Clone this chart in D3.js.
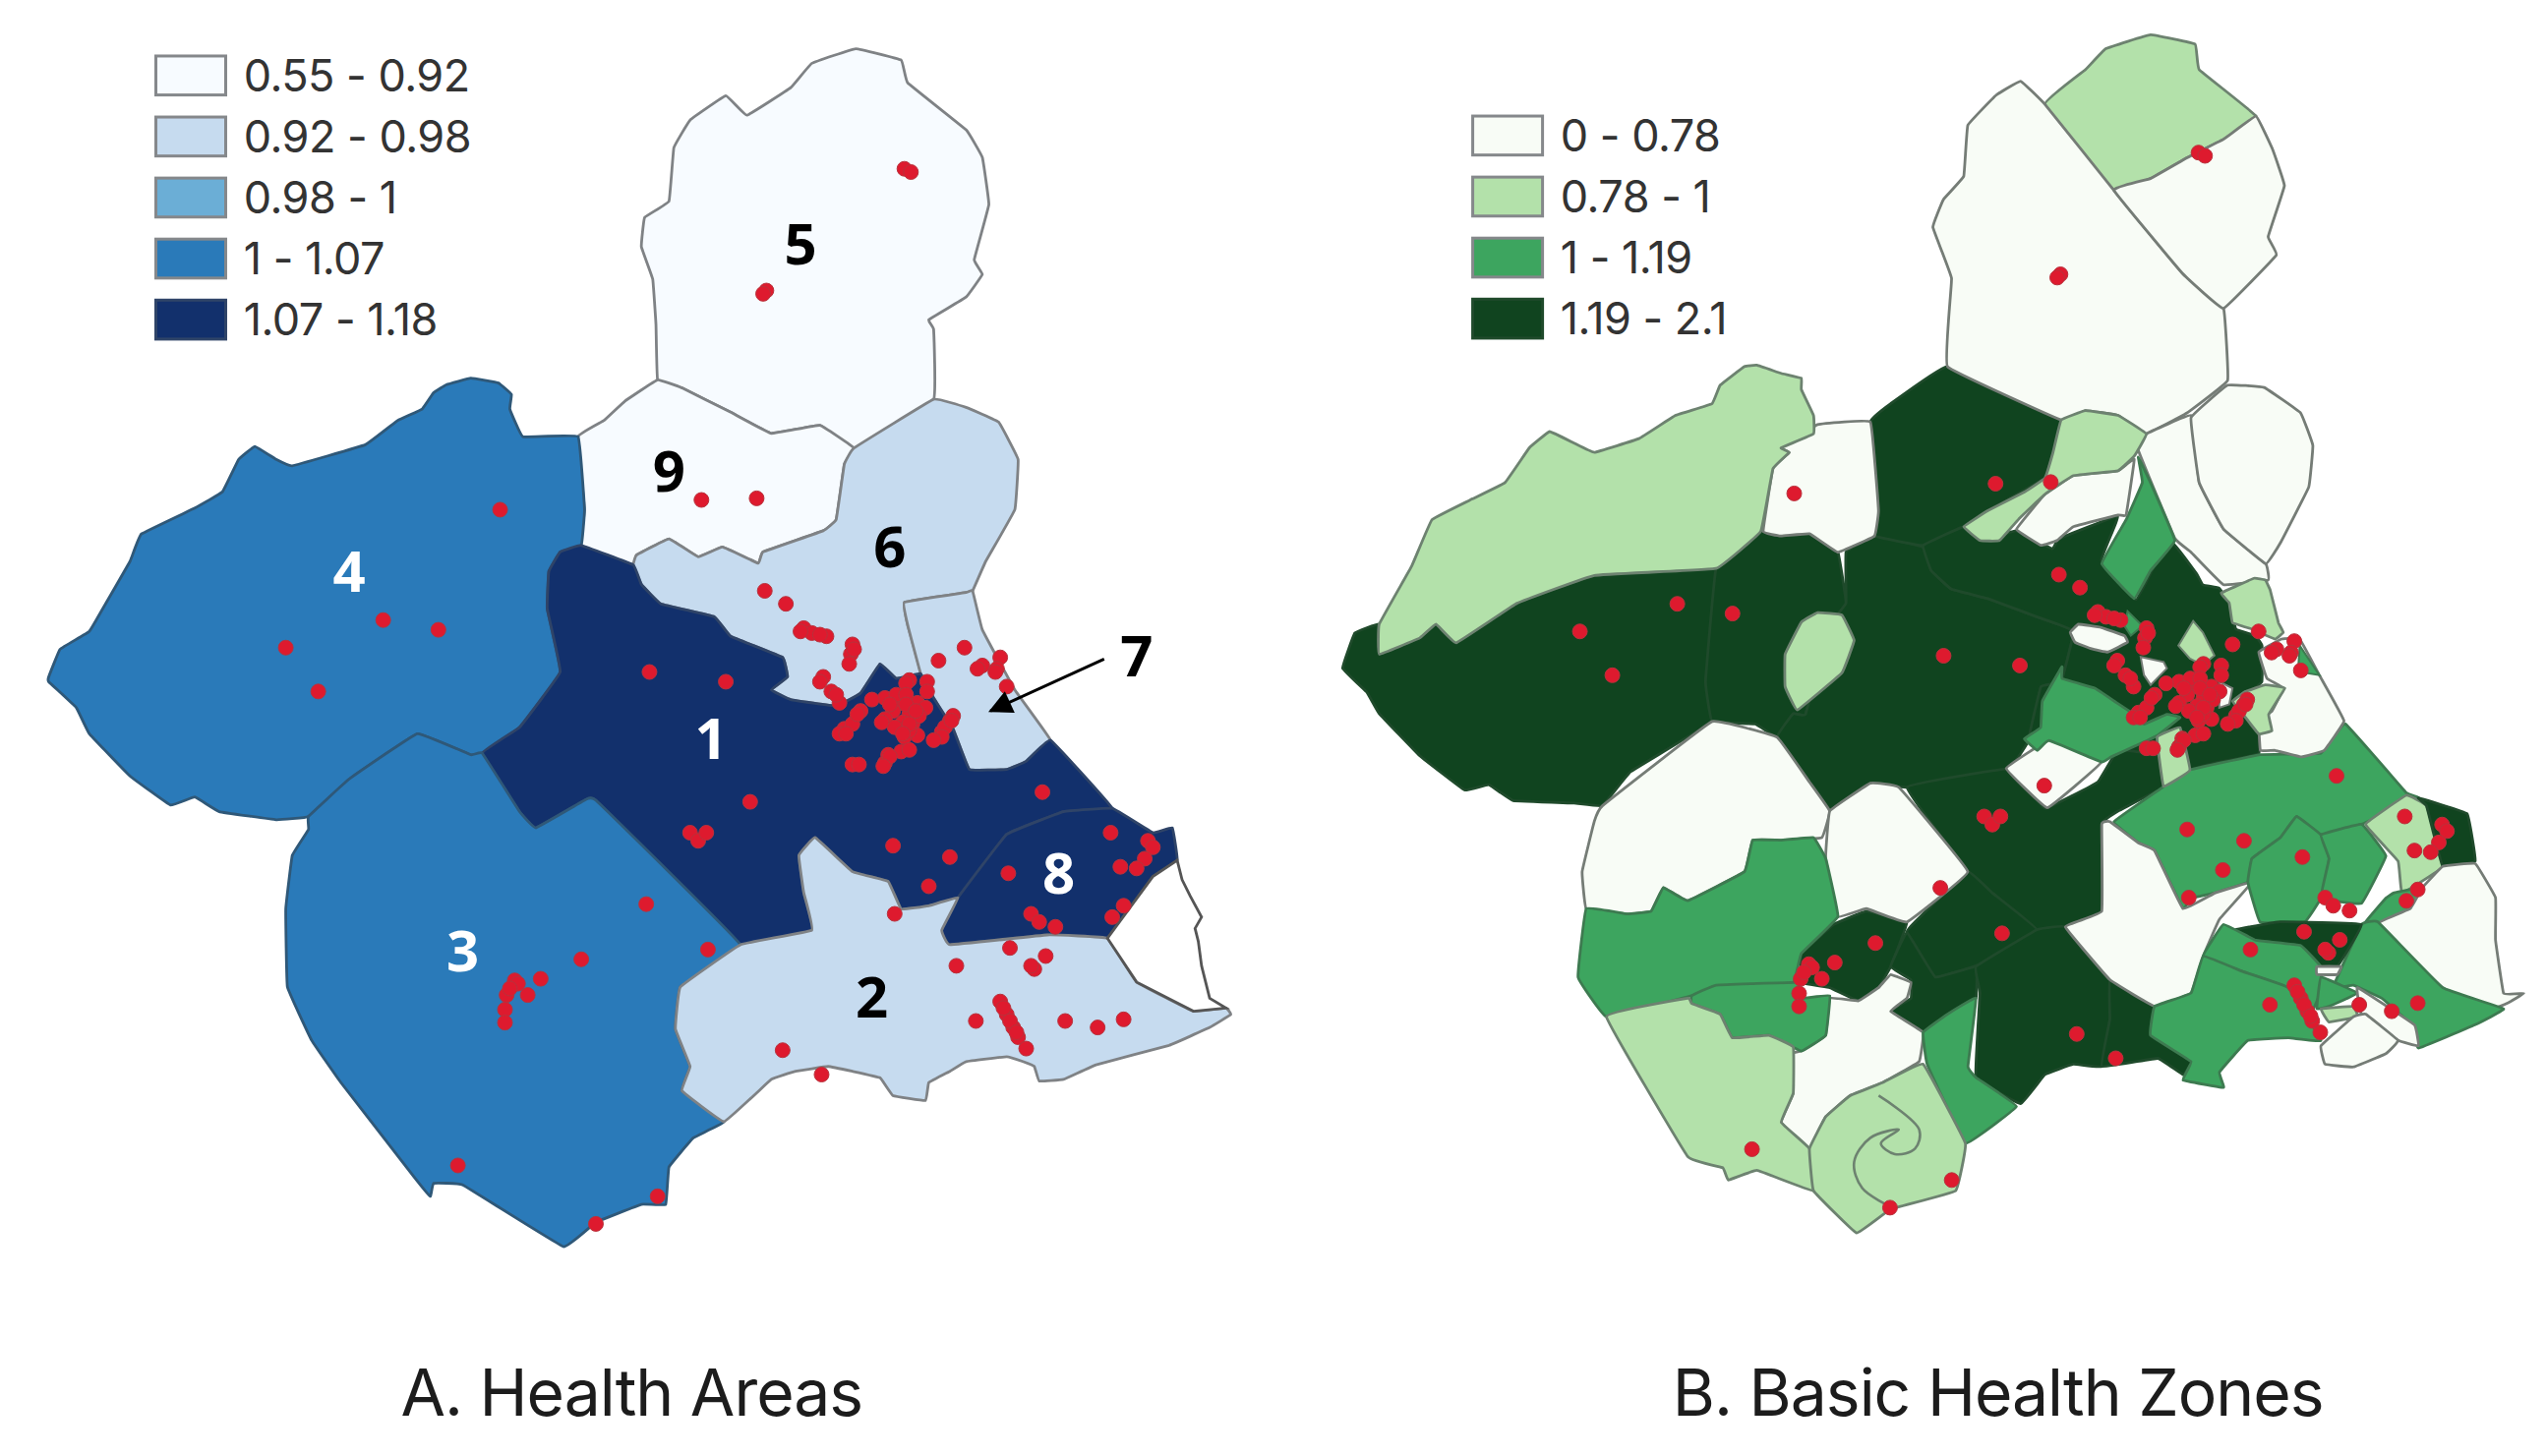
<!DOCTYPE html>
<html>
<head>
<meta charset="utf-8">
<title>Health Areas and Basic Health Zones</title>
<script src="https://cdn.jsdelivr.net/npm/d3@7"></script>
<style>
  html, body { margin: 0; background: #fff; }
  svg { display: block; }
  .legend-label { font-family: Inter, sans-serif; font-size: 45px; letter-spacing: -0.5px; fill: #333; }
  .title { font-family: Inter, sans-serif; font-size: 66px; letter-spacing: -1px; fill: #1c1c1c; text-anchor: middle; }
  .area-num { font-family: "Open Sans", sans-serif; font-weight: 700; font-size: 58px; text-anchor: middle; }
</style>
</head>
<body>
<svg id="chart" width="2589" height="1481"></svg>
<script>
/* ========== DATA (map units, shared by both panels) ========== */
const areaLegend = ["0.55 - 0.92", "0.92 - 0.98", "0.98 - 1", "1 - 1.07", "1.07 - 1.18"];
const areaColours = ["#f7fbff", "#c6dbef", "#6baed6", "#2a7ab9", "#12306c"];
const areaStrokes = ["#7f8285", "#7f8285", "#7f8a94", "#2f5878", "#2f4468"];

const zoneLegend = ["0 - 0.78", "0.78 - 1", "1 - 1.19", "1.19 - 2.1"];
const zoneColours = ["#f8fcf6", "#b3e1aa", "#3da55f", "#10441f"];
const zoneStrokes = ["#757c76", "#6d8270", "#3d7a50", "#1f4a2b"];

// index into areaLegend for each outline below
const areaClasses = [0, 0, 1, 1, 3, 4, 4, 3, 1];
const areaOutlines = [
  [[405,234],[404,200],[402,172],[395,152],[397,134],[412,124],[415,91],[425,74],[447,59],[460,71],[487,54],[500,39],[527,30],[555,37],[559,51],[595,80],[605,97],[609,126],[600,160],[605,169],[595,183],[572,197],[575,203],[575,246],[526,276],[505,262],[475,267],[450,254],[420,239]],
  [[405,234],[420,239],[450,254],[475,267],[505,262],[526,276],[520,286],[515,320],[507,327],[470,340],[467,347],[445,337],[430,343],[412,332],[392,342],[390,348],[358,336],[360,314],[356,269],[372,259],[385,247]],
  [[575,246],[595,251],[615,260],[627,283],[625,314],[607,346],[599,364],[595,365],[557,371],[559,385],[567,415],[552,418],[542,409],[530,427],[515,435],[487,431],[475,425],[485,417],[482,405],[450,392],[440,380],[407,372],[395,360],[390,348],[392,342],[412,332],[430,343],[445,337],[467,347],[470,340],[507,327],[515,320],[520,286],[526,276]],
  [[595,365],[599,364],[605,388],[625,425],[647,456],[632,469],[620,474],[597,474],[587,449],[575,430],[567,415],[559,385],[557,371]],
  [[356,269],[322,269],[314,252],[315,243],[307,236],[290,233],[275,237],[267,242],[260,252],[245,259],[225,274],[180,287],[170,283],[157,275],[147,283],[137,303],[120,313],[87,329],[80,346],[65,372],[55,389],[37,400],[30,417],[30,420],[47,436],[55,452],[80,478],[105,496],[120,491],[135,500],[170,505],[190,503],[215,480],[257,452],[290,465],[297,464],[320,448],[345,414],[337,375],[338,352],[345,340],[358,336],[360,314]],
  [[358,336],[390,348],[395,360],[407,372],[440,380],[450,392],[482,405],[485,417],[475,425],[487,431],[515,435],[530,427],[542,409],[552,418],[567,415],[575,430],[587,449],[597,474],[620,474],[632,469],[647,456],[685,498],[655,500],[620,514],[590,553],[572,558],[555,560],[547,543],[525,537],[502,516],[492,527],[495,550],[500,573],[456,582],[367,493],[360,493],[330,510],[320,500],[297,464],[320,448],[345,414],[337,375],[338,352],[345,340]],
  [[620,514],[655,500],[685,498],[710,513],[722,510],[725,530],[710,540],[682,578],[645,576],[585,582],[580,573],[590,553]],
  [[190,503],[190,511],[180,527],[176,560],[177,608],[192,641],[210,667],[255,725],[265,737],[267,729],[285,730],[347,768],[367,753],[395,742],[410,742],[412,719],[427,701],[446,691],[420,672],[425,657],[416,634],[419,608],[456,582],[367,493],[360,493],[330,510],[320,500],[297,464],[290,465],[257,452],[215,480]],
  [[456,582],[500,573],[495,550],[492,527],[502,516],[525,537],[547,543],[555,560],[572,558],[590,553],[580,573],[585,582],[645,576],[682,578],[700,605],[735,623],[755,621],[758,625],[745,633],[720,644],[675,656],[655,665],[640,666],[637,657],[630,654],[620,651],[595,654],[585,660],[572,667],[570,678],[550,675],[542,664],[525,660],[510,657],[490,660],[475,665],[446,691],[420,672],[425,657],[416,634],[419,608]]
];
// the unshaded coastal strip east of areas 2 and 8
const lagoon = [[725,530],[728,542],[733,552],[740,565],[736,572],[738,580],[740,595],[745,615],[755,621],[735,623],[700,605],[682,578],[710,540]];

// index into zoneLegend, painted in this order
const zoneClasses = [3,3,3,3,3,3,3,3,3,3,3, 1,0,0,0,0,2,0,0,1,1,0,0,2,0,2,1,1,2,1, 2,0,2,2,1,3,2,0,2,3,2,2,2,1,0,0,0,0,2,1,0,1,1,0];
const zoneOutlines = [
  // dark west, centre and south
  [[52.4,413],[52.4,394.5],[37.4,400],[29.9,421.7],[44.9,436.6],[52.4,449.6],[77.4,475.6],[104.9,496.7],[119.9,493.4],[134.9,503.2],[172.4,504.8],[189.9,506.4],[207.4,485.3],[257.4,454.5],[253.4,430],[259.9,360.2],[184.9,364.5],[137.4,381.6],[99.9,406],[87.4,394.5],[77.4,403]],
  [[259.9,360.2],[287.4,337.3],[299.9,340.2],[317.4,338.8],[334.9,350.2],[339.9,381.6],[330,395],[315,450],[307.4,449.6],[297.4,464.2],[284,456],[257.4,454.5],[253.4,430]],
  [[339.9,350],[357.4,340.2],[387.4,347],[392.4,361.6],[404.9,373],[427.4,378.8],[457.4,390],[480,398.8],[472.4,430],[460,433],[452.4,466],[440,483.7],[377.4,495],[354.9,492.5],[329.9,509.7],[317.4,491.8],[297.4,464.2],[307.4,449.6],[315,450],[330,395],[339.9,381.6]],
  [[402.4,235.8],[472.4,268.7],[467.4,288.7],[462.4,304.5],[427.4,324.5],[412.4,334.5],[387.4,346],[357.4,340.2],[359.9,324.5],[354.9,270],[367.4,258.7]],
  [[387.4,346],[412.4,334.5],[422.4,343],[444.7,337],[466.9,348.1],[470.9,342],[507.3,328],[497.2,355.2],[518.4,379.4],[529.5,359.2],[541.6,345.1],[555.7,363.3],[559.7,370.3],[569.8,372.4],[575.9,381.4],[580,397.6],[592,401.6],[596.1,407.7],[596,430],[585,440],[594.1,456.1],[594.1,474.3],[565.8,480.4],[551.7,484.4],[547,490],[534.9,495],[532.4,475.6],[507.4,472.3],[470,467.5],[452.4,466],[460,433],[472.4,430],[480,398.8],[457.4,390],[427.4,378.8],[404.9,373],[392.4,361.6]],
  [[377.4,495],[440,483.7],[462.4,508],[494.9,491.8],[507.4,472],[532.4,475.6],[534.9,495],[507.4,509.7],[497.4,517.8],[497.4,571.4],[475,581],[457.4,582.8],[429.9,560],[414.9,547]],
  [[414.9,547],[429.9,560],[457.4,582.8],[422.4,604],[394.9,612],[377.4,584.4],[382.4,578]],
  [[312.4,597.4],[332.4,579.5],[352.4,571.4],[377.4,578],[367.4,605.5],[359.9,618.5],[347.4,626.6],[329.9,618.5],[312.4,615.3]],
  [[377.4,584.4],[394.9,612],[419.9,605.5],[419.9,625],[402.4,634.8],[387.4,646],[367.4,633],[379.9,625],[379.9,613.7],[367.4,605.5]],
  [[419.9,605.5],[457.4,582.8],[475,581],[502.4,613.6],[502.4,638],[497.4,667],[479.9,665.6],[462.4,672],[447.4,690],[419.9,673.8],[422.4,621.8]],
  [[502.4,613.6],[529.9,630],[527.4,647.8],[552.4,664],[547.4,672],[532,662],[497.4,667],[502.4,638]],
  // north
  [[462.4,74.3],[487.4,52.9],[499.9,40],[527.4,31.4],[554.9,37.2],[557.4,52.9],[592.4,81.5],[572.4,95.8],[549.9,107.2],[527.4,120],[504.9,127.2]],
  [[447.4,60],[462.4,74.3],[504.9,127.2],[547.4,178.7],[572.4,200],[574.9,244.4],[549.9,264.4],[524.9,277.3],[507.4,265.9],[487.4,263],[472.4,268.7],[402.4,235.8],[404.9,181.5],[393.4,150],[399.9,132.9],[412.4,118.6],[414.9,87.2],[432.4,68.6]],
  [[592.4,81.5],[602.4,101.5],[609.9,124.4],[599.9,155.8],[604.9,167.2],[572.4,200],[547.4,178.7],[504.9,127.2],[527.4,120],[549.9,107.2],[572.4,95.8]],
  [[552.4,265.9],[557.4,307.3],[572.4,335.9],[598.4,357.3],[599.9,367.3],[572.4,370.2],[552.4,350.2],[542.4,341.6],[519.9,287.3],[524.9,277.3]],
  [[574.9,247.3],[597.4,248.7],[619.9,264.4],[627.4,284.4],[624.9,310],[607.4,344.5],[598.4,357.3],[572.4,335.9],[557.4,307.3],[552.4,267.3]],
  [[519.9,291.6],[527.4,307.3],[542.4,343],[527.4,361.6],[517.4,378.8],[497.4,357.3],[512.4,330.2],[522.4,307.3]],
  [[517.4,293],[507.4,300],[479.9,303],[462.4,314.5],[444.9,336],[459.9,345.9],[469.9,343],[479.9,334.5],[507.4,327.3],[512.4,327.3]],
  [[354.9,270],[322.4,271.6],[299.9,285.9],[304.9,288.7],[294.9,298.7],[288.9,337.3],[299.9,340.2],[317.4,338.8],[334.9,350.2],[357.4,340.2],[359.9,324.5]],
  [[319.9,265.9],[312.4,250],[312.4,243],[300,240],[285,235],[277.4,235.8],[262.4,247.3],[257.4,258.7],[234.9,265.9],[212.4,280.2],[184.9,288.7],[172.4,283],[157.4,275.9],[144.9,285.9],[129.9,307.3],[109.9,317.3],[84.9,330.2],[72.4,358.8],[52.4,394.5],[52.4,413],[77.4,403],[87.4,394.5],[99.9,406],[137.4,381.6],[184.9,364.5],[259.9,360.2],[287.4,337.3],[294.9,298.7],[304.9,288.7],[299.9,285.9],[319.9,277.3]],
  [[472.4,268.7],[487.4,263],[507.4,265.9],[524.9,277.3],[517.4,291],[507.4,300],[479.9,303],[462.4,314.5],[447,329],[434.4,343],[422.4,343],[412.4,334.5],[427.4,324.5],[450,313],[462.4,304.5],[467.4,288.7]],
  // south-west
  [[189.9,506.4],[257.4,454.5],[297.4,464.2],[317.4,491.8],[329.9,509.7],[325,526],[299.9,527.6],[282.4,527.6],[277.4,547],[242.4,564.9],[227.4,556.8],[219.9,571.4],[204.9,573],[179.9,569.8],[177.4,547],[184.9,516]],
  [[329.9,509.7],[354.9,492.5],[372.4,495],[414.9,547],[377.4,578],[352.4,569.8],[334.9,574.7],[327.4,538.9]],
  [[179.9,569.8],[204.9,573],[219.9,571.4],[227.4,556.8],[242.4,564.9],[277.4,547],[282.4,527.6],[299.9,527.6],[319.9,526],[327.4,538.9],[334.9,574.7],[312.4,597.4],[307.4,615.3],[277.4,616.9],[244.9,623.4],[192.4,636.4],[174.9,612]],
  [[307.4,659],[312.4,657.5],[327.4,647.8],[329.9,625],[347.4,626.6],[359.9,618.5],[367.4,610.4],[379.9,615.3],[377.4,625],[367.4,633],[387.4,646],[384.9,664],[362.4,677],[342.4,685],[327.4,698],[317.4,717.6],[300,701.4],[307.4,683.5]],
  [[244.9,623.4],[259.9,616.9],[309.9,615.3],[312.4,625],[329.9,623.4],[327.4,647.8],[312.4,657.5],[292.4,647.8],[269.9,649.4],[262.4,634.8],[244.9,628.3]],
  [[192.4,636.4],[242.4,625],[244.9,628.3],[262.4,634.8],[269.9,649.4],[292.4,647.8],[307.4,655],[307.4,683.5],[300,701.4],[317.4,717.6],[319.9,743.6],[285,731],[267.4,737],[264,729.4],[242.4,722.5]],
  [[322.4,387.4],[337.4,388.9],[344.9,404.5],[337.4,424.5],[309.9,447.4],[302.4,433],[302.4,413],[312.4,393.3]],
  [[387.4,646],[402.4,634.8],[419.9,625],[415,667],[419.9,673.8],[444.9,691.6],[413.4,714.4],[389.9,665.6]],
  [[362.4,677],[387.4,665.6],[413.4,714.4],[407.4,743.6],[367.4,755],[346.4,769.6],[319.9,743.6],[317.4,717.6],[327.4,698],[342.4,685]],
  // south-east
  [[504.9,516.2],[534.9,495],[547.4,485.3],[594.9,474.9],[632.4,474],[647.4,456],[684.9,498.3],[692.4,501.6],[657.4,517.8],[632.4,524.3],[617.4,513],[607.4,526],[589.9,538.9],[587.4,553.5],[567.4,560],[552.4,563.3],[547.4,570],[529.9,534],[519.9,529.2]],
  [[497.4,517.8],[502.4,516.2],[519.9,529.2],[529.9,534],[547.4,569.8],[567.4,560],[589.9,553.5],[569.9,576.3],[559.9,599],[552.4,621.8],[529.9,630],[502.4,613.6],[475,581],[497.4,571.4]],
  [[589.9,538.9],[607.4,526],[617.4,513],[632.4,524.3],[637.4,539],[632.4,563.3],[622.4,578],[594.9,578],[587.4,553.5]],
  [[632.4,524.3],[657.4,517.8],[672.4,537.3],[657.4,566.5],[632.4,563.3],[637.4,539]],
  [[659.9,517.8],[684.9,500],[697.4,506.4],[707.4,543.8],[682.4,560],[679.9,540.5]],
  [[692.4,501.6],[722.4,511.3],[727.4,540.5],[707.4,543.8],[697.4,506.4]],
  [[677.4,560],[694.9,556.8],[687.4,569.8],[667.4,579.5],[659.9,578],[672.4,563.3]],
  [[707.4,543.8],[727.4,542],[739.9,563],[739.9,589],[744.9,622],[757.4,622],[747.4,628],[737.4,631.5],[707.4,618.5],[667.4,579.5],[687.4,569.8],[694.9,556.8]],
  [[667.4,577.9],[707.4,618.5],[744.9,631.5],[727.4,641.3],[692.4,655.7],[689.9,642.9],[669.9,625],[652.4,617],[640,618],[657.4,579.5]],
  [[579.9,582.8],[607.4,577.9],[657.4,579.5],[642.4,605.5],[632.4,605.5],[619.9,592.5],[592.4,589.3]],
  [[559.9,599],[572.4,579.5],[592.4,589.3],[619.9,592.5],[632.4,605.5],[632.4,620],[627.4,632],[612.4,618.5],[584.9,608.8]],
  [[559.9,599],[584.9,608.8],[612.4,618.5],[632.4,651],[612.4,649.4],[587.4,651],[569.9,670.5],[572.4,680],[547.4,675.4],[552.4,664],[527.4,647.8],[529.9,630],[552.4,621.8]],
  [[632.4,612],[654.9,621.8],[637.4,630],[629.9,631.5]],
  [[632.4,631.5],[652.4,630],[654.9,636.4],[637.4,639.6]],
  [[629.9,605.5],[644.9,605.5],[642.4,610.4],[629.9,610.4]],
  [[654.9,618.5],[689.9,641.3],[692.4,654.3],[679.9,651],[657.4,634.8]],
  [[632.4,654.3],[652.4,636.4],[659.9,634.8],[679.9,651],[672.4,659.1],[652.4,667.3],[634.9,665.6]],
  [[438.6,483.4],[464.9,466.2],[497.2,479.4],[463.9,507.6]],
  // Vega detail
  [[472.9,420.8],[460.8,442],[459.8,458.2],[449.7,465.2],[457.8,472.3],[464.9,466.2],[497.2,479.4],[503.2,476.3],[525.4,466.2],[531.5,463.2],[545.6,452.1],[537.5,450.1],[523.4,456.1],[517.4,450.1],[505.2,442],[493.1,434],[472.9,428]],
  [[570.9,375.4],[591.1,366.3],[598.1,367.3],[601.1,373.4],[606.2,393.6],[609.2,399.6],[604.2,403.7],[590,397.6],[577.9,393.6],[575.9,381.4]],
  [[594.1,411.7],[608.2,403.7],[619.3,403.7],[631.4,425.9],[646.6,454.1],[634.4,472.3],[620.3,476.3],[604.2,472.3],[595.1,472.3],[594.1,454.1],[602.2,448.1],[609.2,433.9],[599.1,427.9]],
  [[586,436],[598.1,431.9],[610.2,433.9],[600.2,450.1],[602.2,460.2],[594.1,462.2],[586,452.1],[578,442]],
  [[531.5,464.2],[545.6,458.2],[551.7,484.4],[535.5,494.5]],
  [[478,399.6],[483,394.6],[497.2,396.6],[511.3,401.6],[513.3,405.7],[501.2,411.7],[491.1,409.7],[481,405.7]]
];
// small pieces on top of the Vega
const smallZoneClasses = [0, 2, 1, 2, 0];
const smallZones = [
  [[521.4,414.8],[535.5,417.8],[537.5,421.8],[527.5,431.9],[523.4,425.9]],
  [[513.3,386.5],[522.4,395.6],[515.3,401.6],[511.3,395.6]],
  [[553.7,392.6],[559.7,399.6],[566.8,413.8],[559.7,419.8],[551.7,415.8],[544.6,407.7]],
  [[619.3,407.7],[631.4,425.9],[618.3,423.8]],
  [[569.8,429.9],[577.9,434],[575.9,444],[569.8,446]]
];
// the curled boundary inside the southern zone
const zoneCurl = [[360,685],[385,706],[382.4,717.6],[370,721],[361.4,714.4],[372.4,706],[354.9,711],[344.9,725.8],[349.9,742],[367.4,753.4]];

// health centres
const centres = [
  [557,104],[561,106],[472,179],[470,181],[432,308],[466,307],[308,314],[236,382],[270,388],[176,399],[196,426],[400,414],[447,420],
  [471,364],[484,372],[495,387],[500,390],[509,392],[493,389],[505,391],[525,397],[524,403],[523,409],[526,400],[507,417],[512,426],[517,433],[505,420],[515,428],
  [594,399],[578,407],[605,410],[616,405],[614,412],[620,423],[560,419],[571,420],[571,426],[558,421],[602,412],[613,414],
  [530,438],[545,430],[555,433],[565,433],[537,431],[550,438],[560,440],[570,436],[562,446],[565,453],[545,443],[520,449],[525,446],[517,452],[557,454],
  [585,444],[587,441],[580,451],[582,448],[525,471],[529,471],[545,470],[547,465],[555,463],[560,462],
  [552,428],[548,434],[558,428],[566,441],[556,445],[551,448],[560,450],[528,440],[543,445],[558,434],[564,438],[560,446],[556,452],[586,444],[580,454],[575,456],[548,466],[544,472],[521,452],
  [642,488],[462,494],[425,513],[430,518],[435,513],[550,521],[585,528],[621,538],[572,546],[551,563],
  [684,513],[707,518],[710,522],[705,529],[690,534],[700,535],[692,558],[685,565],[635,563],[640,568],[650,571],
  [622,584],[644,589],[637,597],[635,595],[589,595],
  [616,617],[620,625],[624,633],[627,639],[632,646],[618,621],[622,629],[626,636],[601,629],[656,629],[676,633],[692,628],[482,647],[506,662],
  [398,557],[436,585],[358,591],[333,603],[325,613],[317,604],[312,613],[311,622],[311,630],[319,606],[314,609],[282,718],[405,737],[367,754]
];

const titles = ["A. Health Areas", "B. Basic Health Zones"];

/* ========== SCALES ========== */
const width = 2589, height = 1481;
const xA = d3.scaleLinear().domain([0, 1568]).range([0, width]);
const yA = d3.scaleLinear().domain([0, 897]).range([0, height]);
// panel B is the same map moved right and up
const xB = d3.scaleLinear().domain([-797, 771]).range([0, width]);
const yB = d3.scaleLinear().domain([10, 907]).range([0, height]);

const svg = d3.select("#chart");

function drawPanel(x, y, outlines, classes, colours, strokes) {
  const g = svg.append("g");
  const line = d3.line().x(d => x(d[0])).y(d => y(d[1])).curve(d3.curveCardinalClosed.tension(0.8));

  g.selectAll("path.zone")
    .data(outlines)
    .enter().append("path")
    .attr("class", "zone")
    .attr("d", line)
    .attr("fill", (d, i) => colours[classes[i]])
    .attr("stroke", (d, i) => strokes[classes[i]])
    .attr("stroke-width", 2.8)
    .attr("stroke-linejoin", "round");
  return g;
}

function drawCentres(g, x, y) {
  g.selectAll("circle")
    .data(centres)
    .enter().append("circle")
    .attr("cx", d => x(d[0]))
    .attr("cy", d => y(d[1]))
    .attr("r", 7.5)
    .attr("fill", "#de1a2e")
    .attr("stroke", "#b8323c")
    .attr("stroke-width", 1);
}

function drawLegend(x, y, left, top, labels, colours, strokes) {
  const row = d3.scaleBand().domain(labels).range([top, top + labels.length * 37.6]);
  const g = svg.append("g");
  labels.forEach((label, i) => {
    g.append("rect")
      .attr("x", x(left)).attr("y", y(row(label)))
      .attr("width", x(left + 43) - x(left))
      .attr("height", y(row(label) + 24) - y(row(label)))
      .attr("fill", colours[i])
      .attr("stroke", i === labels.length - 1 ? strokes[i] : "#85888b")
      .attr("stroke-width", 3);
    g.append("text")
      .attr("class", "legend-label")
      .attr("x", x(left + 54))
      .attr("y", y(row(label) + 12))
      .attr("dy", "0.36em")
      .text(label);
  });
}

/* ========== PANEL A ========== */
const gA = drawPanel(xA, yA, areaOutlines, areaClasses, areaColours, areaStrokes);
gA.append("path")
  .attr("d", d3.line().x(d => xA(d[0])).y(d => yA(d[1])).curve(d3.curveLinearClosed)(lagoon))
  .attr("fill", "#fff").attr("stroke", "#555").attr("stroke-width", 2.8);
drawCentres(gA, xA, yA);
drawLegend(xA, yA, 96, 34.5, areaLegend, areaColours, areaStrokes);

const numberLabels = ["5", "9", "6", "4", "1", "3", "8", "2", "7"];
const numberX = [493, 412, 548, 215, 438, 285, 652, 537, 700];
const numberY = [150, 290, 337, 352, 455, 586, 538, 614, 404];
const numberFill = ["#000", "#000", "#000", "#fff", "#fff", "#fff", "#fff", "#000", "#000"];
gA.selectAll("text.area-num")
  .data(numberLabels)
  .enter().append("text")
  .attr("class", "area-num")
  .attr("x", (d, i) => xA(numberX[i]))
  .attr("y", (d, i) => yA(numberY[i]))
  .attr("dy", "0.36em")
  .attr("fill", (d, i) => numberFill[i])
  .text(d => d);

// arrow pointing at area 7
const arrowLine = [[680, 406], [610, 438]];
svg.append("defs").append("marker")
  .attr("id", "head").attr("viewBox", "0 0 10 10").attr("refX", 9).attr("refY", 5)
  .attr("markerWidth", 9).attr("markerHeight", 8).attr("orient", "auto")
  .append("path").attr("d", "M0,0L10,5L0,10Z").attr("fill", "#000");
gA.append("line")
  .attr("x1", xA(arrowLine[0][0])).attr("y1", yA(arrowLine[0][1]))
  .attr("x2", xA(arrowLine[1][0])).attr("y2", yA(arrowLine[1][1]))
  .attr("stroke", "#000").attr("stroke-width", 3)
  .attr("marker-end", "url(#head)");

svg.append("text").attr("class", "title")
  .attr("x", xA(389)).attr("y", yA(858)).attr("dy", "0.36em").text(titles[0]);

/* ========== PANEL B ========== */
const gB = drawPanel(xB, yB, zoneOutlines, zoneClasses, zoneColours, zoneStrokes);
const lineB = d3.line().x(d => xB(d[0])).y(d => yB(d[1]));
gB.selectAll("path.small")
  .data(smallZones)
  .enter().append("path")
  .attr("class", "small")
  .attr("d", lineB.curve(d3.curveLinearClosed))
  .attr("fill", (d, i) => zoneColours[smallZoneClasses[i]])
  .attr("stroke", (d, i) => zoneStrokes[smallZoneClasses[i]])
  .attr("stroke-width", 2);
gB.append("path")
  .attr("d", d3.line().x(d => xB(d[0])).y(d => yB(d[1])).curve(d3.curveCatmullRom)(zoneCurl))
  .attr("fill", "none").attr("stroke", zoneStrokes[1]).attr("stroke-width", 2.6);
drawCentres(gB, xB, yB);
drawLegend(xB, yB, 110, 81.5, zoneLegend, zoneColours, zoneStrokes);

svg.append("text").attr("class", "title")
  .attr("x", xB(433.5)).attr("y", yB(868)).attr("dy", "0.36em").text(titles[1]);
</script>
</body>
</html>
